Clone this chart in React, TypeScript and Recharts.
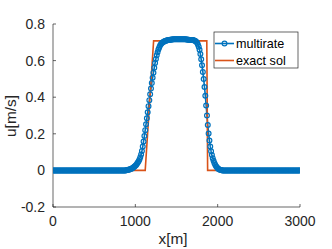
import { LineChart, Line, XAxis, YAxis, Label } from 'recharts'

// multirate solution, sampled every dx metres from 0 to 3000 m
const dx = 10
const multirateU = [
  // 0 - 790
  0, 0, 0, 0, 0, 0, 0, 0, 0, 0,
  0, 0, 0, 0, 0, 0, 0, 0, 0, 0,
  0, 0, 0, 0, 0, 0, 0, 0, 0, 0,
  0, 0, 0, 0, 0, 0, 0, 0, 0, 0,
  0, 0, 0, 0, 0, 0, 0, 0, 0, 0,
  0, 0, 0, 0, 0, 0, 0, 0, 0, 0,
  0, 0, 0, 0, 0, 0, 0, 0, 0, 0,
  0, 0, 0, 0, 0, 0, 0, 0, 0, 0,
  // 800 - 890
  0, 0, 0, 0, 0, 0, 0, 0, 0, 0.001,
  // 900 - 990
  0.002, 0.003, 0.004, 0.005, 0.007, 0.009, 0.011, 0.014, 0.017, 0.021,
  // 1000 - 1090
  0.025, 0.03, 0.036, 0.043, 0.05, 0.06, 0.072, 0.087, 0.106, 0.13,
  // 1100 - 1190
  0.158, 0.188, 0.22, 0.252, 0.285, 0.318, 0.351, 0.384, 0.416, 0.447,
  // 1200 - 1290
  0.477, 0.506, 0.534, 0.561, 0.587, 0.609, 0.629, 0.646, 0.66, 0.672,
  // 1300 - 1390
  0.682, 0.689, 0.695, 0.699, 0.702, 0.705, 0.707, 0.709, 0.71, 0.711,
  // 1400 - 1490
  0.712, 0.713, 0.714, 0.714, 0.715, 0.715, 0.716, 0.716, 0.716, 0.717,
  // 1500 - 1590
  0.717, 0.717, 0.717, 0.717, 0.717, 0.717, 0.717, 0.717, 0.717, 0.716,
  // 1600 - 1690
  0.716, 0.716, 0.715, 0.715, 0.714, 0.714, 0.713, 0.713, 0.713, 0.712,
  // 1700 - 1790
  0.712, 0.711, 0.709, 0.707, 0.703, 0.697, 0.688, 0.676, 0.659, 0.636,
  // 1800 - 1890
  0.607, 0.574, 0.538, 0.499, 0.456, 0.408, 0.355, 0.3, 0.248, 0.202,
  // 1900 - 1990
  0.163, 0.131, 0.105, 0.084, 0.067, 0.053, 0.041, 0.031, 0.023, 0.017,
  // 2000 - 2090
  0.012, 0.008, 0.005, 0.003, 0.002, 0.001, 0, 0, 0, 0,
  // 2100 - 2990
  0, 0, 0, 0, 0, 0, 0, 0, 0, 0,
  0, 0, 0, 0, 0, 0, 0, 0, 0, 0,
  0, 0, 0, 0, 0, 0, 0, 0, 0, 0,
  0, 0, 0, 0, 0, 0, 0, 0, 0, 0,
  0, 0, 0, 0, 0, 0, 0, 0, 0, 0,
  0, 0, 0, 0, 0, 0, 0, 0, 0, 0,
  0, 0, 0, 0, 0, 0, 0, 0, 0, 0,
  0, 0, 0, 0, 0, 0, 0, 0, 0, 0,
  0, 0, 0, 0, 0, 0, 0, 0, 0, 0,
  // 3000
  0,
]

const exactX = [0, 1120, 1222, 1868, 1878, 3000]
const exactU = [0, 0, 0.708, 0.708, 0, 0]

const xTicks = [0, 1000, 2000, 3000]
const yTicks = [-0.2, 0, 0.2, 0.4, 0.6, 0.8]

const BLUE = '#0072BD'
const ORANGE = '#D95319'
const AXIS = '#262626'
const FONT = '"Liberation Sans", Arial, Helvetica, sans-serif'

const multirateData = multirateU.map((u, i) => ({ x: i * dx, u }))
const exactData = exactX.map((x, i) => ({ x, u: exactU[i] }))

const axisLine = { stroke: AXIS, strokeWidth: 0.7 }
const tickStyle = { fill: AXIS, fontSize: 14, fontFamily: FONT }
const blank = () => ''

export default function App() {
  return (
    <div style={{ position: 'absolute', left: 0, top: 0, width: 332, height: 249, background: '#fff' }}>
      <LineChart width={332} height={249} margin={{ top: 24, right: 32, bottom: 0, left: 0 }}>
        <XAxis
          dataKey="x"
          type="number"
          domain={[0, 3000]}
          ticks={xTicks}
          height={42}
          tickSize={-3}
          tickMargin={12.5}
          axisLine={axisLine}
          tickLine={axisLine}
          tick={tickStyle}
          allowDataOverflow
        >
          <Label
            content={() => (
              <text x={173} y={244} textAnchor="middle" fontSize={15.4} fontFamily={FONT} fill={AXIS}>
                x[m]
              </text>
            )}
          />
        </XAxis>
        <XAxis
          xAxisId="top"
          orientation="top"
          dataKey="x"
          type="number"
          domain={[0, 3000]}
          ticks={xTicks}
          height={0}
          tickSize={-3}
          axisLine={axisLine}
          tickLine={axisLine}
          tickFormatter={blank}
        >
          <Label
            content={() => (
              <text x={167} y={16.5} textAnchor="middle" fontSize={15.4} fontWeight="bold" fontFamily={FONT} fill="#000">
                time =100
              </text>
            )}
          />
        </XAxis>
        <YAxis
          type="number"
          domain={[-0.2, 0.8]}
          ticks={yTicks}
          width={53}
          tickSize={-3}
          tickMargin={11}
          axisLine={axisLine}
          tickLine={axisLine}
          tick={tickStyle}
          allowDataOverflow
        >
          <Label
            content={() => (
              <text
                x={15.5}
                y={116}
                transform="rotate(-90, 15.5, 116)"
                textAnchor="middle"
                fontSize={15.4}
                fontFamily={FONT}
                fill={AXIS}
              >
                u[m/s]
              </text>
            )}
          />
        </YAxis>
        <YAxis
          yAxisId="right"
          orientation="right"
          type="number"
          domain={[-0.2, 0.8]}
          ticks={yTicks}
          width={0}
          tickSize={-3}
          axisLine={axisLine}
          tickLine={axisLine}
          tickFormatter={blank}
        />
        <Line
          data={multirateData}
          dataKey="u"
          stroke={BLUE}
          strokeWidth={1.6}
          dot={{ r: 2.4, stroke: BLUE, strokeWidth: 1.2, fill: 'none' }}
          activeDot={false}
          isAnimationActive={false}
        />
        <Line
          data={exactData}
          dataKey="u"
          stroke={ORANGE}
          strokeWidth={1.6}
          dot={false}
          activeDot={false}
          isAnimationActive={false}
        />
      </LineChart>

      {/* legend box, placed like matlab's 'northeast' */}
      <svg width={332} height={249} style={{ position: 'absolute', left: 0, top: 0, pointerEvents: 'none' }}>
        <rect x={214} y={32} width={84} height={36} fill="#fff" stroke={AXIS} strokeWidth={0.7} />
        <line x1={215} y1={43.5} x2={234} y2={43.5} stroke={BLUE} strokeWidth={1.6} />
        <circle cx={224.5} cy={43.5} r={2.4} stroke={BLUE} strokeWidth={1.2} fill="none" />
        <text x={236} y={47.8} fontSize={12.6} fontFamily={FONT} fill="#000">
          multirate
        </text>
        <line x1={215} y1={60.5} x2={234} y2={60.5} stroke={ORANGE} strokeWidth={1.6} />
        <text x={236} y={64.8} fontSize={12.6} fontFamily={FONT} fill="#000">
          exact sol
        </text>
      </svg>
    </div>
  )
}
